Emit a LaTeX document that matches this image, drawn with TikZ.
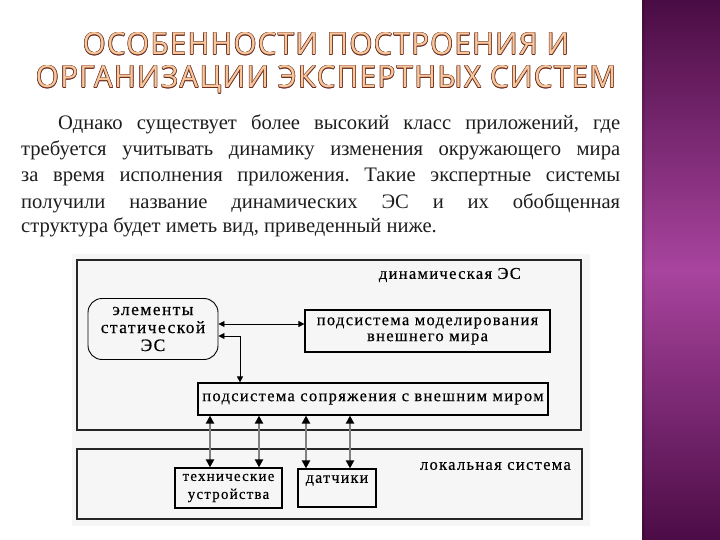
\documentclass[tikz,border=0pt]{standalone}
\usepackage{fontspec}
\setmainfont{Liberation Serif}
\newfontfamily\diagf[LetterSpace=8,FakeBold=0.4]{Liberation Serif}
\newfontfamily\titlef[LetterSpace=5]{Open Sans}
\usepackage{graphicx}
\usetikzlibrary{arrows.meta}
\definecolor{pTop}{HTML}{4A0C44}
\definecolor{pMid}{HTML}{A8449E}
\definecolor{pBot}{HTML}{4C0C46}
\definecolor{ttlStroke}{HTML}{6A2E22}
\definecolor{ttlFill}{HTML}{F8C89C}
\definecolor{bodyC}{HTML}{1E1E1E}
\definecolor{diagbg}{HTML}{F6F6F6}
\newcommand{\ttlA}{\resizebox{486pt}{22pt}{ОСОБЕННОСТИ ПОСТРОЕНИЯ И}}
\newcommand{\ttlB}{\resizebox{580pt}{22pt}{ОРГАНИЗАЦИИ ЭКСПЕРТНЫХ СИСТЕМ}}
\tikzset{
  ttl/.style={inner sep=0pt, anchor=base, font=\titlef},
  bodyln/.style={inner sep=0pt, anchor=base west, font=\fontsize{20.6}{24}\selectfont\frenchspacing, text=bodyC},
  outerbox/.style={draw=black!85, line width=1.3pt, fill=diagbg, inner sep=0pt},
  innerbox/.style={draw=black, line width=1.2pt, fill=diagbg, inner sep=0pt, align=center,
     font=\diagf\fontsize{16.5}{16}\selectfont},
  statbox/.style={draw=black, line width=0.9pt, rounded corners=14pt, fill=diagbg, inner sep=0pt,
     align=center, font=\diagf\fontsize{17.5}{18}\selectfont},
  lbl/.style={inner sep=0pt, font=\diagf\fontsize{16.5}{16}\selectfont},
  hconn/.style={draw=black, line width=0.8pt, {Triangle[length=6pt,width=6pt]}-{Triangle[length=6pt,width=6pt]}},
  vconn/.style={draw=black!50, line width=2.4pt,
     {Triangle[length=8pt,width=8pt,color=black]}-{Triangle[length=8pt,width=8pt,color=black]}}
}
\begin{document}
\begin{tikzpicture}[x=1pt,y=-1pt]
\useasboundingbox (0,0) rectangle (720,540);
\fill[white] (0,0) rectangle (720,540);
% right decorative panel
\shade[top color=pTop, bottom color=pBot, middle color=pMid] (642,0) rectangle (720,540);
\fill[black, opacity=0.12] (642,0) rectangle (645,540);
% title (outlined letters)
\foreach \a in {0,45,...,315} {
  \node[ttl, text=ttlStroke] at ([shift={(\a:0.6pt)}]326,55) {\ttlA};
  \node[ttl, text=ttlStroke] at ([shift={(\a:0.6pt)}]326,88) {\ttlB};
}
\node[ttl, text=ttlFill] (title1) at (326,55) {\ttlA};
\node[ttl, text=ttlFill] (title2) at (326,88) {\ttlB};
% body text
\node[bodyln] (l1) at (58,130) {\makebox[562pt][s]{Однако существует более высокий класс приложений, где}};
\node[bodyln] (l2) at (21,156) {\makebox[599pt][s]{требуется учитывать динамику изменения окружающего мира}};
\node[bodyln] (l3) at (21,182) {\makebox[599pt][s]{за время исполнения приложения. Такие экспертные системы}};
\node[bodyln] (l4) at (21,208) {\makebox[599pt][s]{получили название динамических ЭС и их обобщенная}};
\node[bodyln] (l5) at (21,233) {структура будет иметь вид, приведенный ниже.};
% diagram
\fill[diagbg] (72,254) rectangle (590,526);
\node[outerbox, minimum width=504pt, minimum height=170pt] (dyn) at (329,345) {};
\node[outerbox, minimum width=505pt, minimum height=70pt] (loc) at (329.5,484) {};
\node[lbl, anchor=east] (dynlbl) at (521,275) {динамическая ЭС};
\node[lbl, anchor=east] (loclbl) at (571,466) {локальная система};
\node[statbox, minimum width=130pt, minimum height=61pt] (stat) at (153,329) {элементы\\статической\\ЭС};
\node[innerbox, minimum width=245pt, minimum height=42pt] (model) at (427.5,331) {подсистема моделирования\\внешнего мира};
\node[innerbox, minimum width=350pt, minimum height=32pt] (sopr) at (373,399) {подсистема сопряжения с внешним миром};
\node[innerbox, minimum width=107pt, minimum height=40pt, font=\diagf\fontsize{15}{18}\selectfont] (tech) at (228.5,488) {технические\\устройства};
\node[innerbox, minimum width=78pt, minimum height=38pt, font=\diagf\fontsize{16}{18}\selectfont] (dat) at (337,488) {датчики\\\mbox{}};
% connectors
\draw[hconn] ([yshift=5pt]stat.east) -- ([yshift=5pt]stat.east -| model.west);
\coordinate (s1) at (240,0);
\draw[hconn] ([yshift=-7pt]stat.east) -| (sopr.north -| s1);
\coordinate (v1) at (210,0);
\coordinate (v2) at (259,0);
\coordinate (v3) at (306,0);
\coordinate (v4) at (350,0);
\draw[vconn] (sopr.south -| v1) -- (tech.north -| v1);
\draw[vconn] (sopr.south -| v2) -- (tech.north -| v2);
\draw[vconn] (sopr.south -| v3) -- (dat.north -| v3);
\draw[vconn] (sopr.south -| v4) -- (dat.north -| v4);
\end{tikzpicture}
\end{document}
